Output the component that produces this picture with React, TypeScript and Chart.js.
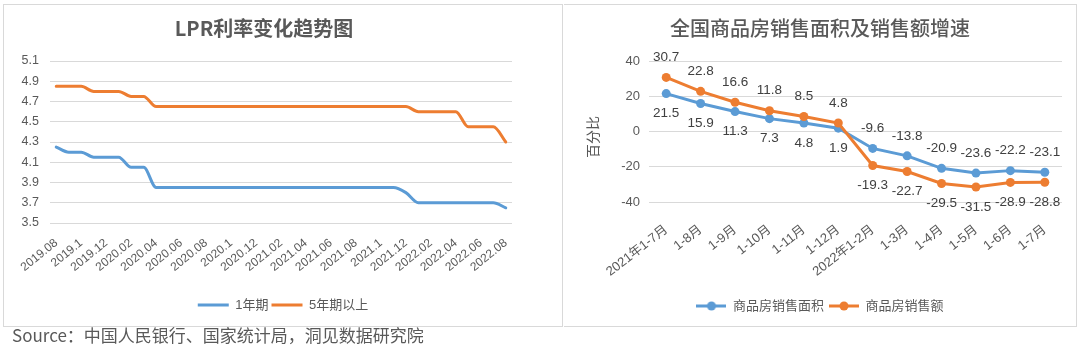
import React, { useEffect, useRef } from "react";
import { Chart, registerables } from "chart.js";

Chart.register(...registerables);

// ---------- data ----------
const lprMonths = [
  "2019.08", "2019.09", "2019.1", "2019.11", "2019.12",
  "2020.01", "2020.02", "2020.03", "2020.04", "2020.05", "2020.06",
  "2020.07", "2020.08", "2020.09", "2020.1", "2020.11", "2020.12",
  "2021.01", "2021.02", "2021.03", "2021.04", "2021.05", "2021.06",
  "2021.07", "2021.08", "2021.09", "2021.1", "2021.11", "2021.12",
  "2022.01", "2022.02", "2022.03", "2022.04", "2022.05", "2022.06",
  "2022.07", "2022.08",
];
const lpr1Y = [
  4.25, 4.2, 4.2, 4.15, 4.15,
  4.15, 4.05, 4.05, 3.85, 3.85, 3.85,
  3.85, 3.85, 3.85, 3.85, 3.85, 3.85,
  3.85, 3.85, 3.85, 3.85, 3.85, 3.85,
  3.85, 3.85, 3.85, 3.85, 3.85, 3.8,
  3.7, 3.7, 3.7, 3.7, 3.7, 3.7,
  3.7, 3.65,
];
const lpr5Y = [
  4.85, 4.85, 4.85, 4.8, 4.8,
  4.8, 4.75, 4.75, 4.65, 4.65, 4.65,
  4.65, 4.65, 4.65, 4.65, 4.65, 4.65,
  4.65, 4.65, 4.65, 4.65, 4.65, 4.65,
  4.65, 4.65, 4.65, 4.65, 4.65, 4.65,
  4.6, 4.6, 4.6, 4.6, 4.45, 4.45,
  4.45, 4.3,
];
const lprSeriesNames = ["1年期", "5年期以上"];
const lprTitle = "LPR利率变化趋势图";

const salesCats = [
  "2021年1-7月", "1-8月", "1-9月", "1-10月", "1-11月", "1-12月",
  "2022年1-2月", "1-3月", "1-4月", "1-5月", "1-6月", "1-7月",
];
const areaGrowth = [21.5, 15.9, 11.3, 7.3, 4.8, 1.9, -9.6, -13.8, -20.9, -23.6, -22.2, -23.1];
const salesGrowth = [30.7, 22.8, 16.6, 11.8, 8.5, 4.8, -19.3, -22.7, -29.5, -31.5, -28.9, -28.8];
const salesSeriesNames = ["商品房销售面积", "商品房销售额"];
const salesTitle = "全国商品房销售面积及销售额增速";
const salesYTitle = "百分比";
const sourceText = "Source：中国人民银行、国家统计局，洞见数据研究院";

// ---------- styles ----------
const BLUE = "#5B9BD5";
const ORANGE = "#ED7D31";
const TICK = "#595959";
const GRID = "#d9d9d9";
const LABEL = "#404040";
const FONT = "'Liberation Sans', 'Noto Sans CJK SC', sans-serif";
const CJK = "'Noto Sans CJK SC', 'Liberation Sans', sans-serif";

function drawText(
  ctx: CanvasRenderingContext2D,
  text: string,
  x: number,
  y: number,
  font: string,
  color: string,
  rot = 0
) {
  ctx.save();
  ctx.translate(x, y);
  if (rot) ctx.rotate(rot);
  ctx.font = font;
  ctx.fillStyle = color;
  ctx.textAlign = "center";
  ctx.textBaseline = "middle";
  ctx.fillText(text, 0, 0);
  ctx.restore();
}

function makeMarker(color: string) {
  const c = document.createElement("canvas");
  c.width = 30;
  c.height = 10;
  const g = c.getContext("2d")!;
  g.strokeStyle = color;
  g.lineWidth = 3;
  g.beginPath();
  g.moveTo(0, 5);
  g.lineTo(30, 5);
  g.stroke();
  g.fillStyle = color;
  g.beginPath();
  g.arc(15, 5, 4.5, 0, Math.PI * 2);
  g.fill();
  return c;
}

export default function App() {
  const leftRef = useRef<HTMLCanvasElement>(null);
  const rightRef = useRef<HTMLCanvasElement>(null);

  useEffect(() => {
    document.body.style.margin = "0";

    const leftTitlePlugin = {
      id: "leftTitle",
      afterDraw(chart: any) {
        drawText(chart.ctx, lprTitle, 260, 23, `bold 20px ${CJK}`, TICK);
      },
    };

    const left = new Chart(leftRef.current!, {
      type: "line",
      data: {
        labels: lprMonths,
        datasets: [
          {
            label: lprSeriesNames[0],
            data: lpr1Y,
            borderColor: BLUE,
            backgroundColor: BLUE,
            borderWidth: 3,
            pointRadius: 0,
            cubicInterpolationMode: "monotone",
            borderJoinStyle: "round",
            borderCapStyle: "round",
            yAxisID: "y",
          },
          {
            label: lprSeriesNames[1],
            data: lpr5Y,
            borderColor: ORANGE,
            backgroundColor: ORANGE,
            borderWidth: 3,
            pointRadius: 0,
            cubicInterpolationMode: "monotone",
            borderJoinStyle: "round",
            borderCapStyle: "round",
            yAxisID: "y",
          },
        ],
      },
      options: {
        responsive: false,
        animation: false,
        events: [],
        layout: { padding: { top: 56, bottom: 4.5, left: 0, right: 0 } },
        plugins: {
          title: { display: false },
          tooltip: { enabled: false },
          legend: {
            position: "bottom",
            labels: {
              usePointStyle: true,
              pointStyle: "line",
              pointStyleWidth: 31,
              padding: 3,
              color: TICK,
              font: { size: 13, family: FONT },
            },
          },
        },
        scales: {
          x: {
            offset: true,
            grid: { display: false, drawTicks: false },
            border: { display: false },
            ticks: {
              autoSkip: false,
              maxRotation: 39,
              minRotation: 39,
              padding: 13,
              color: TICK,
              font: { size: 12, family: FONT },
              callback: (_v: any, i: number) => (i % 2 === 0 ? lprMonths[i] : ""),
            },
            afterFit: (s: any) => {
              s.height = 72.5;
            },
          },
          y: {
            min: 3.5,
            max: 5.1,
            ticks: {
              stepSize: 0.2,
              padding: 11,
              color: TICK,
              font: { size: 12.5, family: FONT },
              callback: (v: any) => Number(v).toFixed(1),
            },
            grid: { color: GRID, lineWidth: 1, drawTicks: false },
            border: { display: false },
            afterFit: (s: any) => {
              s.width = 46;
            },
          },
          yR: {
            position: "right",
            display: true,
            grid: { display: false, drawTicks: false },
            ticks: { display: false },
            border: { display: false },
            afterFit: (s: any) => {
              s.width = 50;
            },
          },
        },
      } as any,
      plugins: [leftTitlePlugin],
    });

    const markers = [makeMarker(BLUE), makeMarker(ORANGE)];

    const rightTextPlugin = {
      id: "rightTexts",
      afterDatasetsDraw(chart: any) {
        const ctx = chart.ctx;
        const m0 = chart.getDatasetMeta(0);
        const m1 = chart.getDatasetMeta(1);
        for (let i = 0; i < salesCats.length; i++) {
          const a = areaGrowth[i];
          const s = salesGrowth[i];
          const aAbove = a > s;
          const pa = m0.data[i];
          const ps = m1.data[i];
          drawText(ctx, a.toFixed(1), pa.x, pa.y + (aAbove ? -20 : 20), `13.5px ${FONT}`, LABEL);
          drawText(ctx, s.toFixed(1), ps.x, ps.y + (aAbove ? 20 : -20), `13.5px ${FONT}`, LABEL);
        }
      },
      afterDraw(chart: any) {
        const ctx = chart.ctx;
        drawText(ctx, salesTitle, 256, 23, `500 20px ${CJK}`, TICK);
        drawText(ctx, salesYTitle, 29, 132, `14px ${CJK}`, TICK, -Math.PI / 2);
      },
    };

    const right = new Chart(rightRef.current!, {
      type: "line",
      data: {
        labels: salesCats,
        datasets: [
          {
            label: salesSeriesNames[0],
            data: areaGrowth,
            borderColor: BLUE,
            backgroundColor: BLUE,
            pointBackgroundColor: BLUE,
            pointBorderColor: BLUE,
            borderWidth: 3,
            pointRadius: 4.5,
            pointBorderWidth: 0,
            tension: 0,
            order: 1,
            yAxisID: "y",
          },
          {
            label: salesSeriesNames[1],
            data: salesGrowth,
            borderColor: ORANGE,
            backgroundColor: ORANGE,
            pointBackgroundColor: ORANGE,
            pointBorderColor: ORANGE,
            borderWidth: 3,
            pointRadius: 4.5,
            pointBorderWidth: 0,
            tension: 0,
            order: 0,
            yAxisID: "y",
          },
        ],
      },
      options: {
        responsive: false,
        animation: false,
        events: [],
        layout: { padding: { top: 56, bottom: 3.5, left: 0, right: 0 } },
        plugins: {
          title: { display: false },
          tooltip: { enabled: false },
          legend: {
            position: "bottom",
            labels: {
              usePointStyle: true,
              pointStyleWidth: 30,
              padding: 5,
              color: TICK,
              font: { size: 13, family: FONT },
              generateLabels: (chart: any) => {
                const items = (Chart.defaults.plugins.legend.labels as any).generateLabels(chart);
                return items
                  .map((it: any) => ({ ...it, pointStyle: markers[it.datasetIndex] }))
                  .sort((a: any, b: any) => a.datasetIndex - b.datasetIndex);
              },
            },
          },
        },
        scales: {
          x: {
            offset: true,
            grid: { display: false, drawTicks: false },
            border: { display: false },
            ticks: {
              autoSkip: false,
              maxRotation: 38,
              minRotation: 38,
              padding: 20,
              color: TICK,
              font: { size: 13, family: FONT },
            },
            afterFit: (s: any) => {
              s.height = 92.5;
            },
          },
          y: {
            min: -40,
            max: 40,
            ticks: {
              stepSize: 20,
              padding: 9,
              color: TICK,
              font: { size: 13, family: FONT },
            },
            grid: { color: GRID, lineWidth: 1, drawTicks: false },
            border: { display: false },
            afterFit: (s: any) => {
              s.width = 85;
            },
          },
          yR: {
            position: "right",
            display: true,
            grid: { display: false, drawTicks: false },
            ticks: { display: false },
            border: { display: false },
            afterFit: (s: any) => {
              s.width = 14;
            },
          },
        },
      } as any,
      plugins: [rightTextPlugin],
    });

    return () => {
      left.destroy();
      right.destroy();
    };
  }, []);

  return (
    <div style={{ position: "relative", width: 1080, height: 356, background: "#fff", overflow: "hidden" }}>
      <div
        style={{
          position: "absolute",
          left: 3,
          top: 4,
          width: 558,
          height: 321,
          border: `1px solid ${GRID}`,
        }}
      >
        <canvas ref={leftRef} width={558} height={321} style={{ display: "block" }} />
      </div>
      <div
        style={{
          position: "absolute",
          left: 564,
          top: 4,
          width: 512,
          height: 321,
          borderTop: `1px solid ${GRID}`,
          borderBottom: `1px solid ${GRID}`,
          borderRight: `1px solid ${GRID}`,
        }}
      >
        <canvas ref={rightRef} width={512} height={321} style={{ display: "block" }} />
      </div>
      <div
        style={{
          position: "absolute",
          left: 12,
          top: 325,
          fontFamily: CJK,
          fontSize: 17,
          lineHeight: "20px",
          color: TICK,
          whiteSpace: "nowrap",
        }}
      >
        {sourceText}
      </div>
    </div>
  );
}
